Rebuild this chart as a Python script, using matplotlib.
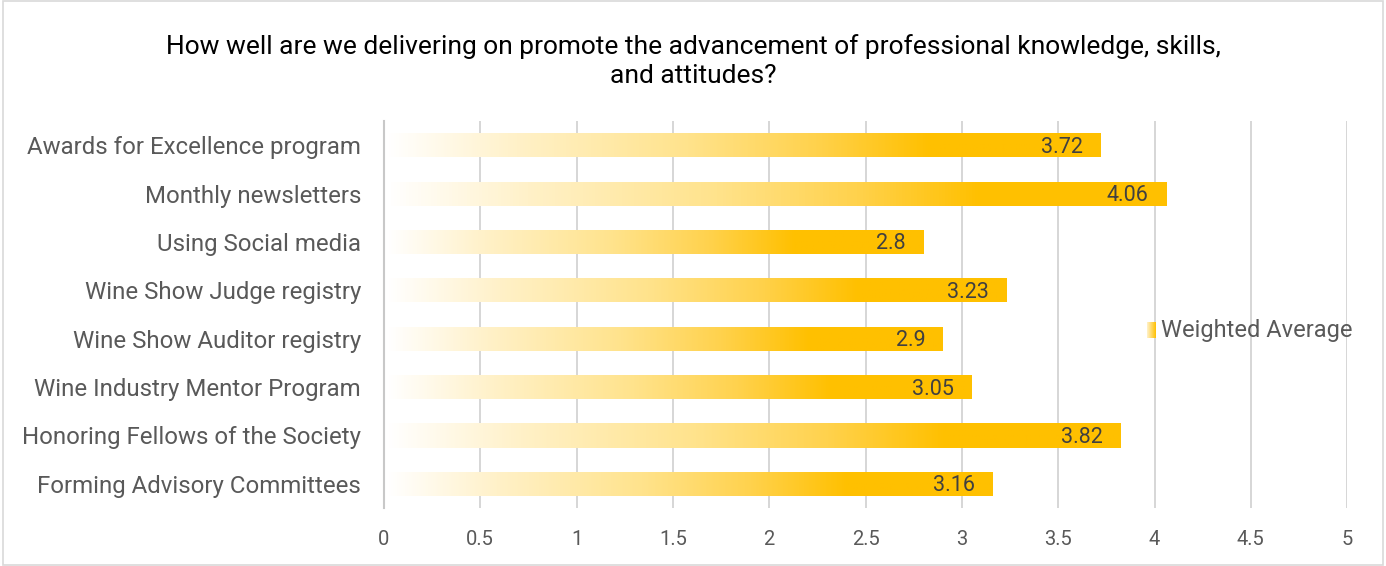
import matplotlib
matplotlib.use("Agg")
import matplotlib.pyplot as plt
import numpy as np
from matplotlib.colors import LinearSegmentedColormap
from matplotlib.patches import Rectangle
from matplotlib import font_manager

categories = ["Awards for Excellence program", "Monthly newsletters", "Using Social media",
              "Wine Show Judge registry", "Wine Show Auditor registry",
              "Wine Industry Mentor Program", "Honoring Fellows of the Society",
              "Forming Advisory Committees"]
values = [3.72, 4.06, 2.8, 3.23, 2.9, 3.05, 3.82, 3.16]
value_labels = ["3.72", "4.06", "2.8", "3.23", "2.9", "3.05", "3.82", "3.16"]
xticks = [0, 0.5, 1, 1.5, 2, 2.5, 3, 3.5, 4, 4.5, 5]
xtick_labels = ["0", "0.5", "1", "1.5", "2", "2.5", "3", "3.5", "4", "4.5", "5"]
title = "How well are we delivering on promote the advancement of professional knowledge, skills,\nand attitudes?"
series_name = "Weighted Average"

names = {f.name for f in font_manager.fontManager.ttflist}
main_font = "Roboto" if "Roboto" in names else "DejaVu Sans"
label_font = main_font

cmap = LinearSegmentedColormap.from_list(
    "gold", [(0, "#FFFFFF"), (0.18, "#FFF1C8"), (0.42, "#FFE38C"), (0.6, "#FFD24D"),
             (0.76, "#FFC000"), (1.0, "#FFC000")])

fig = plt.figure(figsize=(13.86, 5.66), dpi=100)
fig.patch.set_facecolor("white")
fig.add_artist(Rectangle((0.002, 0.002), 0.996, 0.996, transform=fig.transFigure,
                         fill=False, edgecolor="#D9D9D9", linewidth=1.2))

ax = fig.add_axes([0.277, 0.1025, 0.695, 0.6835])
n = len(categories)
ypos = np.arange(n)
bar_h = 0.5

grad = np.linspace(0, 1, 256).reshape(1, -1)
for y, v, lab in zip(ypos, values, value_labels):
    rect = Rectangle((0.02, y - bar_h / 2), v - 0.02, bar_h, facecolor="none", edgecolor="none")
    ax.add_patch(rect)
    im = ax.imshow(grad, cmap=cmap, aspect="auto",
                   extent=[0.02, v, y + bar_h / 2, y - bar_h / 2], zorder=2)
    im.set_clip_path(rect)
    ax.text(v - 0.09, y + 0.04, lab, ha="right", va="center", fontsize=15.5,
            family=label_font, color="#404040", zorder=3)
ax.set_xlim(0, 5)
ax.set_ylim(n - 0.5, -0.5)

ax.set_xticks(xticks)
ax.set_xticklabels(xtick_labels, family=main_font, fontsize=14.5, color="#595959")
ax.set_yticks(ypos)
ax.set_yticklabels(categories, family=main_font, fontsize=17.3, color="#595959")
ax.tick_params(axis="x", length=0, pad=16)
ax.tick_params(axis="y", length=0, pad=16.5)
ax.grid(axis="x", color="#D0D0D0", linewidth=1.2, zorder=0)
ax.set_axisbelow(True)
for s in ["top", "right", "bottom"]:
    ax.spines[s].set_visible(False)
ax.spines["left"].set_color("#C8C8C8")
ax.spines["left"].set_linewidth(1.5)

fig.text(0.5, 1 - 61 / 566, title, ha="center", va="center", fontsize=19,
         family=main_font, color="#000000", linespacing=1.3)

lax = fig.add_axes([1147 / 1386, 1 - 338 / 566, 9 / 1386, 16 / 566])
lax.imshow(grad, cmap=LinearSegmentedColormap.from_list("lg", ["#FFF2CC", "#FFC000"]),
           aspect="auto", extent=[0, 1, 0, 1])
lax.set_axis_off()
fig.text(1161 / 1386, 1 - 330 / 566, series_name, family=main_font, fontsize=17,
         color="#595959", va="center", ha="left")

fig.savefig("out.png", dpi=100, facecolor="white")
